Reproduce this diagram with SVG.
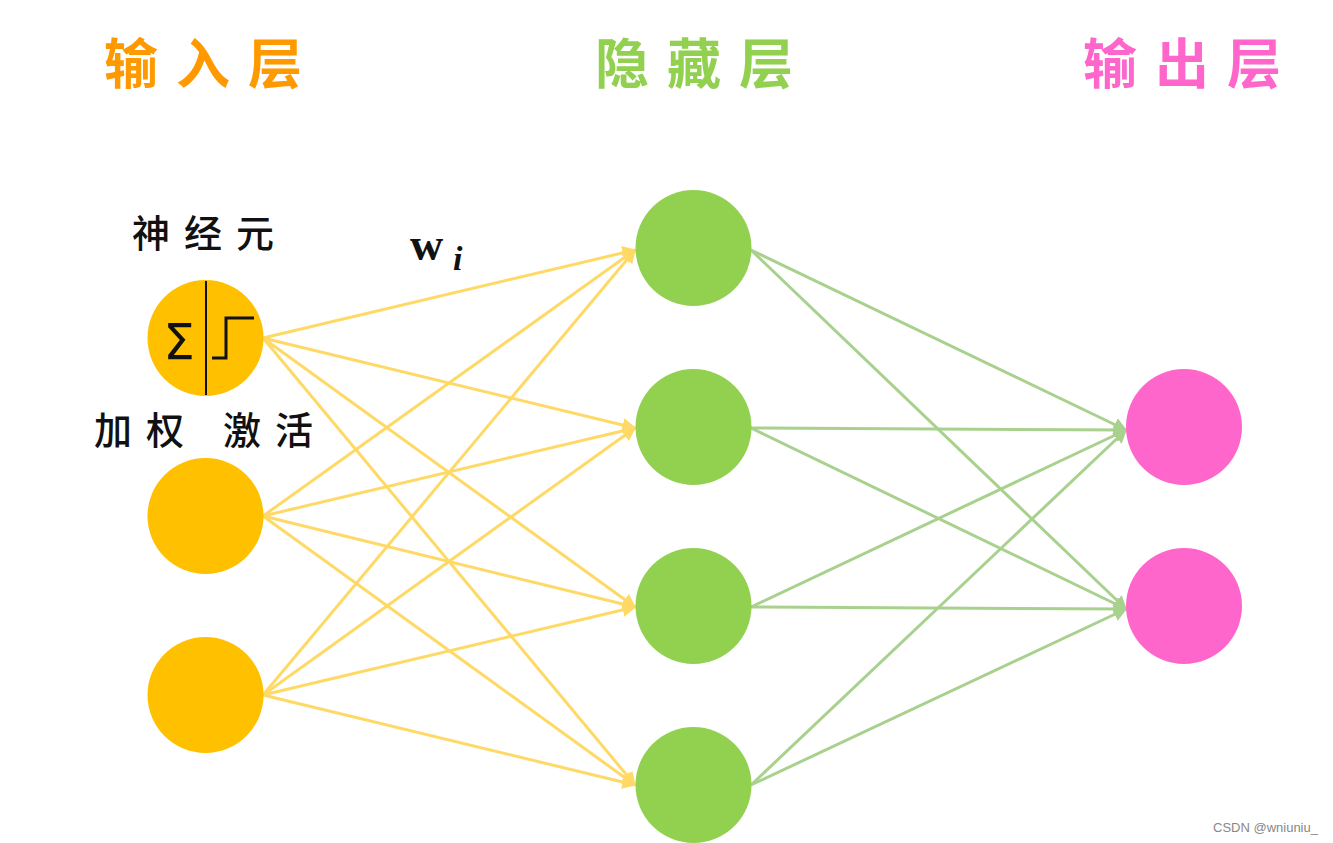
<svg xmlns="http://www.w3.org/2000/svg" width="1333" height="843" viewBox="0 0 1333 843">
<defs>
<style>
.cjk{font-family:"Noto Sans CJK SC","Noto Sans CJK JP",sans-serif;}
.title{font-size:54px;font-weight:700;letter-spacing:18px;}
.lbl{font-size:38px;font-weight:500;fill:#111;letter-spacing:14px;}
.y{stroke:#FFD966;stroke-width:3;fill:none;marker-end:url(#ay);}
.g{stroke:#A9D18E;stroke-width:3;fill:none;marker-end:url(#ag);}
.in{fill:#FFC000;}
.hid{fill:#92D050;}
.out{fill:#FF66CC;}
</style>
<marker id="ay" viewBox="0 0 10 10" refX="9" refY="5" markerWidth="14" markerHeight="14" markerUnits="userSpaceOnUse" orient="auto"><path d="M0,0 L10,5 L0,10 z" fill="#FFD966"/></marker>
<marker id="ag" viewBox="0 0 10 10" refX="9" refY="5" markerWidth="14" markerHeight="14" markerUnits="userSpaceOnUse" orient="auto"><path d="M0,0 L10,5 L0,10 z" fill="#A9D18E"/></marker>
</defs>
<rect width="1333" height="843" fill="#FFFFFF"/>
<g id="titles">
<text class="cjk title" x="104" y="84" fill="#FF9900">输入层</text>
<text class="cjk title" x="595" y="84" fill="#92D050">隐藏层</text>
<text class="cjk title" x="1083" y="84" fill="#FF66CC">输出层</text>
</g>
<g id="connectors">
<line class="y" x1="263" y1="338" x2="635" y2="250"/>
<line class="y" x1="263" y1="338" x2="635" y2="428"/>
<line class="y" x1="263" y1="338" x2="635" y2="607"/>
<line class="y" x1="263" y1="338" x2="635" y2="785"/>
<line class="y" x1="263" y1="516" x2="635" y2="250"/>
<line class="y" x1="263" y1="516" x2="635" y2="428"/>
<line class="y" x1="263" y1="516" x2="635" y2="607"/>
<line class="y" x1="263" y1="516" x2="635" y2="785"/>
<line class="y" x1="263" y1="695" x2="635" y2="250"/>
<line class="y" x1="263" y1="695" x2="635" y2="428"/>
<line class="y" x1="263" y1="695" x2="635" y2="607"/>
<line class="y" x1="263" y1="695" x2="635" y2="785"/>
<line class="g" x1="751" y1="250" x2="1126" y2="430"/>
<line class="g" x1="751" y1="250" x2="1126" y2="609"/>
<line class="g" x1="751" y1="428" x2="1126" y2="430"/>
<line class="g" x1="751" y1="428" x2="1126" y2="609"/>
<line class="g" x1="751" y1="607" x2="1126" y2="430"/>
<line class="g" x1="751" y1="607" x2="1126" y2="609"/>
<line class="g" x1="751" y1="785" x2="1126" y2="430"/>
<line class="g" x1="751" y1="785" x2="1126" y2="609"/>
</g>
<g id="input1">
<circle class="in" cx="205.5" cy="338" r="58"/>
<line x1="206" y1="281" x2="206" y2="395" stroke="#111" stroke-width="2"/>
<text x="179" y="359" font-family="DejaVu Sans, sans-serif" font-size="50" text-anchor="middle" fill="#111">Σ</text>
<path d="M212,358 H226 V318 H254" fill="none" stroke="#111" stroke-width="3"/>
</g>
<g id="input2"><circle class="in" cx="205.5" cy="516" r="58"/></g>
<g id="input3"><circle class="in" cx="205.5" cy="695" r="58"/></g>
<g id="hidden1"><circle class="hid" cx="693.5" cy="248" r="58"/></g>
<g id="hidden2"><circle class="hid" cx="693.5" cy="427" r="58"/></g>
<g id="hidden3"><circle class="hid" cx="693.5" cy="606" r="58"/></g>
<g id="hidden4"><circle class="hid" cx="693.5" cy="785" r="58"/></g>
<g id="output1"><circle class="out" cx="1184" cy="427" r="58"/></g>
<g id="output2"><circle class="out" cx="1184" cy="606" r="58"/></g>
<g id="labels">
<text class="cjk lbl" x="132" y="247">神经元</text>
<text class="cjk lbl" x="94" y="444">加权</text>
<text class="cjk lbl" x="223" y="444">激活</text>
<text x="410" y="260" font-family="Liberation Serif, serif" font-size="46" font-weight="700" fill="#111">w</text>
<text x="453" y="270" font-family="Liberation Serif, serif" font-size="34" font-weight="700" font-style="italic" fill="#111">i</text>
<text x="1213" y="832" font-family="Liberation Sans, Arial, sans-serif" font-size="13" fill="#888">CSDN @wniuniu_</text>
</g>
</svg>
